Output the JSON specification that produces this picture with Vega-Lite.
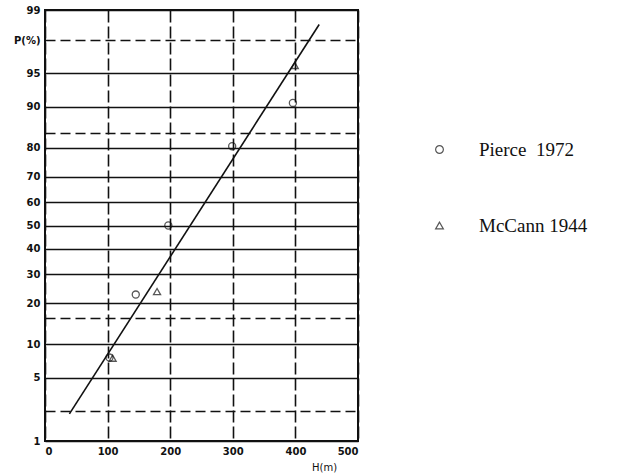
{
  "$schema": "https://vega.github.io/schema/vega-lite/v6.json",
  "width": 313,
  "height": 431,
  "autosize": {"type": "none"},
  "padding": {"left": 45, "top": 10, "right": 266, "bottom": 33},
  "background": "white",
  "config": {
    "view": {"stroke": "#111", "strokeWidth": 2},
    "axis": {
      "domain": false,
      "ticks": false,
      "labelOverlap": false,
      "labelFont": "DejaVu Sans",
      "labelFontWeight": "bold",
      "labelFontSize": 10,
      "labelColor": "#111",
      "gridColor": "#111",
      "gridOpacity": 1,
      "gridWidth": 1.6
    }
  },
  "datasets": {
    "pts": [
      {"H": 103, "P": 7.7, "source": "Pierce\u00a0\u00a01972"},
      {"H": 145, "P": 22.8, "source": "Pierce\u00a0\u00a01972"},
      {"H": 197, "P": 50, "source": "Pierce\u00a0\u00a01972"},
      {"H": 299, "P": 80.4, "source": "Pierce\u00a0\u00a01972"},
      {"H": 396, "P": 90.7, "source": "Pierce\u00a0\u00a01972"},
      {"H": 108, "P": 7.6, "source": "McCann 1944"},
      {"H": 179, "P": 23.8, "source": "McCann 1944"},
      {"H": 399, "P": 95.8, "source": "McCann 1944"}
    ],
    "fit": [
      {"H": 39, "P": 2.1},
      {"H": 438, "P": 98.5}
    ]
  },
  "layer": [
    {
      "data": {"name": "fit"},
      "transform": [{"calculate": "quantileNormal(datum.P/100)", "as": "z"}],
      "mark": {"type": "line", "color": "#111", "strokeWidth": 1.6},
      "encoding": {
        "x": {
          "field": "H", "type": "quantitative",
          "scale": {"domain": [0, 500], "nice": false},
          "axis": {
            "values": [0, 100, 200, 300, 400, 500],
            "tickCount": 20,
            "gridDash": [12, 4],
            "labelPadding": 5,
            "title": "H(m)",
            "titleFont": "DejaVu Sans",
            "titleFontWeight": "normal",
            "titleFontSize": 10,
            "titleColor": "#111",
            "titleX": 279,
            "titleY": 21
          }
        },
        "y": {
          "field": "z", "type": "quantitative",
          "scale": {"domain": [-2.3263, 2.3263], "nice": false, "zero": false},
          "axis": {
            "values": [-2.3263, -2, -1.6449, -1.2816, -1, -0.8416, -0.5244, -0.2533, 0, 0.2533, 0.5244, 0.8416, 1, 1.2816, 1.6449, 2, 2.3263],
            "tickCount": 40,
            "labelExpr": "datum.value == 2 ? 'P(%)' : ((abs(datum.value) == 1 || datum.value == -2) ? '' : format(round(cumulativeNormal(datum.value) * 100), 'd'))",
            "gridDash": {"condition": {"test": "abs(datum.value) == 1 || abs(datum.value) == 2", "value": [10, 5]}, "value": []},
            "labelPadding": 5,
            "title": null
          }
        }
      }
    },
    {
      "data": {"name": "pts"},
      "transform": [{"calculate": "quantileNormal(datum.P/100)", "as": "z"}],
      "mark": {"type": "point", "filled": false, "stroke": "#111", "strokeWidth": 1.3, "size": 50},
      "encoding": {
        "x": {"field": "H", "type": "quantitative"},
        "y": {"field": "z", "type": "quantitative"},
        "shape": {
          "field": "source", "type": "nominal",
          "scale": {"domain": ["Pierce\u00a0\u00a01972", "McCann 1944"], "range": ["circle", "triangle-up"]},
          "legend": {
            "orient": "none",
            "legendX": 385,
            "legendY": 130,
            "title": null,
            "labelFont": "Liberation Serif",
            "labelFontSize": 19,
            "labelColor": "#111",
            "symbolSize": 60,
            "symbolStrokeColor": "#111",
            "symbolStrokeWidth": 1.2,
            "symbolFillColor": "transparent",
            "rowPadding": 56,
            "labelOffset": 30
          }
        }
      }
    }
  ]
}
